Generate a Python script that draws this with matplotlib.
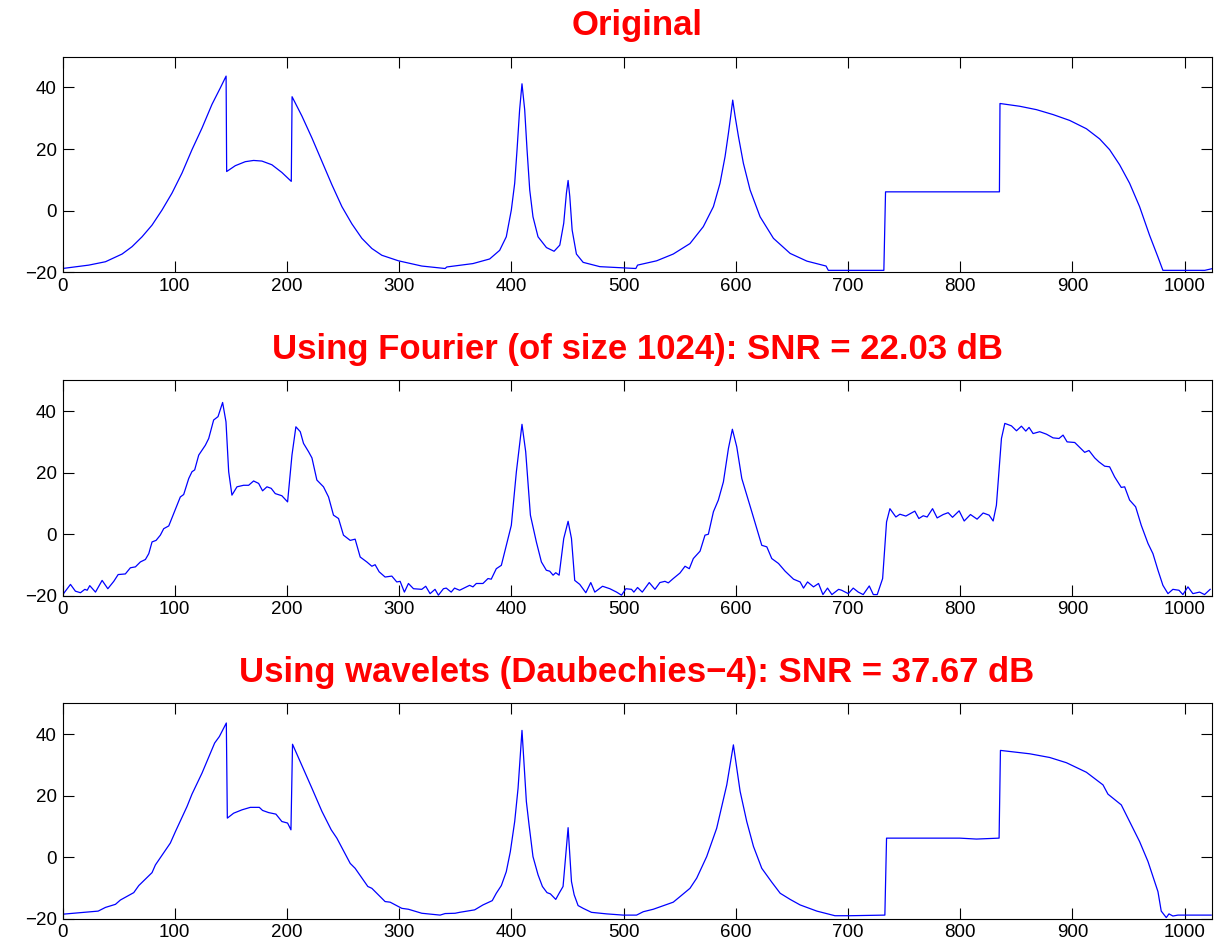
import matplotlib
matplotlib.use("Agg")
import matplotlib.pyplot as plt

plt.rcParams['font.family'] = ['Liberation Sans', 'DejaVu Sans']

titles = ["Original",
          "Using Fourier (of size 1024): SNR = 22.03 dB",
          "Using wavelets (Daubechies\u22124): SNR = 37.67 dB"]

orig_x = [0, 23.4, 38.3, 53.1, 62, 70.9, 79.8, 88.7, 97.6, 106.5, 115.4, 124.3, 133.2, 140.7, 145.8,
          146.3, 154, 162.9, 170.3, 177.7, 186.6, 195.5, 203.9,
          204.6, 213.4, 222.3, 231.2, 240.1, 249, 257.9, 266.8, 275.7, 284.6, 299.4, 320.2, 341, 342.5,
          365.8, 380.7, 389.6, 395.5, 400, 403, 405.1, 407.4, 409.5, 411.9, 414, 416.4, 419.3, 423.8,
          431.3, 438.1, 443.2, 446.7, 449.1, 450.6, 452.1, 454.2, 458, 464, 478.9, 511, 512.5,
          529.5, 544.3, 559.2, 571.1, 580.1, 586, 590.5, 593.5, 595.5, 597.3, 599.4, 602.4, 606.8,
          612.8, 621.7, 633.6, 648.5, 663.4, 680.5, 682.5, 732, 733.5, 835.0,
          835.5, 853.1, 868, 882.8, 897.6, 912.5, 924.3, 933.2, 942.1, 951, 959.9, 968.8, 976.2,
          980.7, 1018, 1024]
orig_y = [-18.8, -17.7, -16.6, -14.1, -11.7, -8.5, -4.7, 0.2, 5.7, 12.2, 19.8, 26.8, 34.5, 39.9, 43.7,
          12.7, 14.6, 15.9, 16.3, 16.1, 14.9, 12.4, 9.5,
          37.0, 30.7, 23.6, 16.0, 8.4, 1.3, -4.3, -9.0, -12.3, -14.5, -16.3, -18.0, -18.8, -18.3,
          -17.2, -15.7, -12.9, -8.5, 0.2, 8.9, 19.8, 32.8, 41.2, 32.8, 19.8, 6.7, -2.0, -8.5,
          -12.0, -13.2, -11.2, -4.1, 5.7, 9.8, 4.6, -6.3, -14.1, -16.8, -18.2, -18.8, -17.7,
          -16.3, -14.1, -10.7, -5.2, 1.3, 8.9, 17.6, 25.2, 30.7, 35.9, 30.7, 24.1, 15.4,
          6.7, -2.0, -9.0, -13.9, -16.4, -18.0, -19.4, -19.4, 6.1, 6.1,
          34.8, 33.9, 32.8, 31.2, 29.3, 26.6, 23.3, 19.8, 14.9, 8.9, 1.3, -8.0, -15.0,
          -19.4, -19.4, -18.9]

four_x = [0.3, 7.1, 11.5, 16, 19.9, 22, 24.3, 29.4, 35.3, 40.4, 45.7, 49.6, 56, 60.5, 65, 69.4, 73.9,
          76.9, 79.8, 83.4, 87.2, 90.2, 94.7, 99.1, 105, 108, 112.5, 115.4, 117.8, 121.4, 127.3, 130.3,
          134.7, 138.6, 142.7, 145.7, 148.1, 151, 155.5, 161.4, 165.9, 170.3, 174.8, 178.3, 182.2, 186,
          189.6, 195.5, 200.6, 204.5, 208, 211.9, 214.8, 219.3, 222.3, 226.7, 232.6, 237.1, 241.5, 246,
          250.4, 256.4, 260.8, 265.3, 271.2, 275.7, 278.6, 282.2, 287.5, 293.5, 297.9, 300.9, 304.7,
          308.3, 312.8, 320.2, 323.7, 327.6, 332, 335, 339.5, 342, 346.4, 349.4, 353.9, 362.8, 365.8,
          368.8, 374.7, 379.2, 382.1, 386.6, 391.1, 395.5, 400, 404.5, 409.5, 412.8, 417, 422.3, 426.8,
          431.2, 434.2, 437.2, 439.6, 442.6, 446.7, 450.6, 453.6, 456.5, 461, 466.4, 470.8, 474.4,
          481.3, 487.8, 493.8, 498.2, 502.1, 507.1, 509.2, 512.5, 516.7, 522.9, 528, 532.4, 536.9,
          539.9, 544.3, 550.3, 554.8, 558.6, 562.2, 568.2, 572.6, 575.6, 580.1, 584.5, 589, 593.5, 597,
          600.9, 605.4, 609.8, 614.3, 618.8, 623.2, 627.7, 632.1, 638.1, 644, 651.5, 657.4, 660.4, 664,
          669.3, 673.8, 677.7, 681.8, 685.7, 691.7, 694.4, 700.3, 704.7, 709.2, 713.6, 719, 722.6,
          726.1, 730.9, 734.4, 737.4, 742.7, 746.3, 751.6, 759.6, 763.2, 767.1, 770.6, 775.4, 779.5,
          784.9, 789.3, 793.2, 799.1, 803.6, 809.2, 815.1, 820.5, 825.8, 829.4, 832.3, 836.8, 839.8,
          845.7, 850.2, 854.6, 858.5, 861.4, 865, 870.9, 876.9, 882.8, 888.1, 891.7, 895.3, 902.1, 906,
          911, 914.8, 919.9, 923.7, 928.8, 933.2, 937.7, 943.6, 946.6, 951, 956.4, 961.4, 967.4, 971.8,
          976.3, 980.7, 985.2, 989.6, 995, 998.5, 1003, 1007.4, 1013.4, 1017.8, 1022.8]
four_y = [-19.6, -16.3, -18.5, -19.0, -17.9, -18.2, -16.7, -18.8, -15.0, -17.7, -15.3, -13.1, -12.9, -10.9,
          -10.6, -9.0, -8.2, -6.3, -2.5, -2.0, -0.3, 1.8, 2.7, 6.7, 12.1, 12.9, 18.1, 20.3, 20.9, 25.7, 28.9,
          31.1, 37.1, 38.2, 42.8, 36.5, 20.3, 12.7, 15.4, 15.9, 15.9, 17.3, 16.5, 14.1, 15.4, 14.9, 13.2,
          12.5, 10.5, 25.7, 34.9, 33.3, 29.5, 26.8, 24.8, 17.6, 15.4, 12.1, 6.2, 5.1, -0.3, -2.0, -1.6,
          -7.4, -9.0, -10.4, -9.9, -12.2, -13.9, -13.6, -15.5, -15.3, -18.8, -16.0, -17.7, -17.9, -16.9,
          -19.3, -17.9, -19.8, -17.7, -17.5, -18.8, -17.5, -18.2, -16.6, -17.1, -16.0, -16.0, -14.4,
          -14.6, -11.2, -10.1, -3.6, 2.9, 20.3, 35.7, 26.8, 6.2, -2.5, -9.0, -11.7, -12.0, -13.3, -12.5,
          -13.3, -1.4, 4.2, -1.4, -15.0, -16.3, -19.0, -15.7, -18.8, -16.9, -17.7, -18.8, -19.8, -17.7,
          -17.9, -18.8, -17.3, -18.8, -15.7, -17.9, -15.7, -15.3, -15.8, -14.4, -12.6, -10.4, -11.2,
          -7.9, -5.5, -0.3, 0.0, 7.3, 11.1, 17.0, 27.9, 34.1, 28.4, 18.1, 12.7, 7.3, 1.8, -3.6, -4.1,
          -7.9, -9.5, -12.0, -14.6, -15.5, -17.5, -15.5, -17.1, -16.0, -19.6, -17.5, -19.6, -17.9,
          -18.2, -19.3, -17.5, -18.8, -19.6, -16.8, -19.6, -19.6, -14.4, 4.0, 8.3, 5.6, 6.5, 5.9, 7.5,
          5.1, 6.0, 5.6, 8.3, 5.3, 6.4, 7.0, 5.5, 7.6, 4.3, 6.4, 4.9, 6.9, 6.2, 4.3, 9.4, 31.1, 36.0,
          35.2, 33.6, 35.1, 33.5, 34.7, 32.7, 33.3, 32.5, 31.3, 31.1, 32.2, 30.0, 29.8, 28.4, 26.6,
          27.2, 24.8, 23.5, 22.1, 21.9, 18.6, 15.2, 15.4, 11.1, 8.9, 2.9, -3.0, -6.3, -11.7, -16.6,
          -19.3, -17.9, -18.2, -19.6, -17.1, -19.3, -18.8, -19.6, -17.9]

wav_x = [0.3, 31.8, 38.3, 47.2, 51.6, 63.5, 68, 79.8, 82.8, 96.1, 100.6, 111, 115.4, 124.3, 135.6, 139.8,
         146, 146.9, 152.5, 160, 167.4, 175.4, 178.3, 183.7, 190.2, 195.5, 200.6, 203.6, 205, 222.3,
         231.2, 239.5, 244.5, 256.4, 260.8, 272.1, 275.7, 287.5, 292, 302.4, 308.3, 320.2, 336.5, 341,
         349.9, 353.9, 367.3, 374.7, 383, 386.6, 391.1, 395.5, 399.1, 403, 406, 409.5, 413.4, 415.8,
         419.3, 423.8, 427.7, 431.8, 434.8, 439.6, 442.6, 446.1, 450.6, 453.6, 456, 459.5, 464, 471.4,
         484.8, 499.7, 511.6, 517.6, 526.5, 544.3, 550.3, 559.2, 565.2, 574.1, 583, 592, 597.9, 603.9,
         609.8, 615.8, 623.2, 632.1, 639.6, 648.5, 657.4, 672.3, 688.4, 701.8, 732.9, 734.4, 799.7,
         814.5, 834.7, 835.9, 862, 879.8, 894.7, 912.5, 927.3, 931.7, 943.6, 951, 959.9, 967.4, 976.3,
         979.2, 983.7, 986.1, 989.6, 994.1, 1023.7]
wav_y = [-18.5, -17.5, -16.3, -15.3, -13.9, -11.5, -9.2, -5.0, -2.5, 4.6, 8.3, 16.5, 20.5, 27.3, 37.1, 39.2,
         43.6, 12.7, 14.3, 15.4, 16.2, 16.2, 15.2, 14.5, 14.0, 11.6, 11.1, 8.9, 36.7, 22.4, 14.9, 8.9,
         6.2, -2.0, -3.6, -9.5, -10.1, -14.4, -14.6, -16.6, -16.9, -18.2, -18.8, -18.3, -18.2, -17.9,
         -17.1, -15.5, -14.1, -11.7, -9.2, -4.7, 1.8, 11.6, 22.4, 41.2, 18.1, 10.5, 0.2, -5.7, -9.5,
         -11.5, -11.9, -13.7, -11.7, -9.5, 9.6, -7.9, -12.2, -15.7, -16.6, -17.9, -18.4, -18.8, -18.8,
         -17.7, -16.9, -14.6, -12.8, -10.1, -6.8, 0.2, 9.4, 23.5, 36.5, 21.4, 11.6, 3.5, -3.6, -8.1,
         -11.7, -13.7, -15.5, -17.5, -19.0, -19.0, -18.8, 6.2, 6.2, 5.9, 6.2, 34.7, 33.6, 32.4, 30.7,
         27.6, 23.5, 20.5, 17.0, 11.6, 5.1, -1.4, -11.2, -17.5, -19.6, -18.4, -19.1, -18.8, -18.8]

series = [(orig_x, orig_y), (four_x, four_y), (wav_x, wav_y)]
x_ticks = list(range(0, 1001, 100))
y_ticks = [-20, 0, 20, 40]

fig = plt.figure(figsize=(12.14, 9.52), dpi=100)
W, H = 1214.0, 952.0
tops = [56.7, 380.3, 703.3]
ax_h = 215.5
left_px, right_px = 62.5, 1211.5

for (xs, ys), title, top in zip(series, titles, tops):
    ax = fig.add_axes([left_px / W, 1 - (top + ax_h) / H, (right_px - left_px) / W, ax_h / H])
    ax.plot(xs, ys, color=(0, 0, 1), linewidth=0.9)
    ax.set_xlim(0, 1024)
    ax.set_ylim(-20, 50)
    ax.set_xticks(x_ticks)
    ax.set_yticks(y_ticks)
    ax.tick_params(direction='in', length=8, width=0.8, labelsize=13.5,
                   top=True, right=True, pad=4)
    for s in ax.spines.values():
        s.set_linewidth(0.8)
    ax.set_title(title, color=(1, 0, 0), fontsize=25, fontweight='bold', pad=15.5)

fig.savefig("out.png", dpi=100)
